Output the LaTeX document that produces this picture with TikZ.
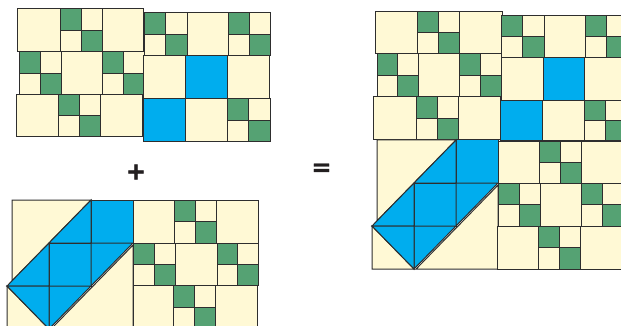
\documentclass[tikz,border=0pt]{standalone}
\usepackage{fontspec}
\newfontfamily\opfont{DejaVu Sans}
\definecolor{pale}{HTML}{FFF9D5}
\definecolor{grn}{HTML}{55A273}
\definecolor{blu}{HTML}{00ADEE}
\definecolor{edgecol}{HTML}{2E2E2E}
\definecolor{opcol}{HTML}{231F20}
\tikzset{
  cell/.style={draw=edgecol, line width=1pt, line join=miter},
  palecell/.style={cell, fill=pale},
  greencell/.style={cell, fill=grn},
  bluecell/.style={cell, fill=blu},
  opsign/.style={font=\opfont\bfseries\addfontfeature{FakeBold=1.6}\fontsize{24}{24}\selectfont, text=opcol, inner sep=0pt}
}
% large pale square, blue square, four-patch
\newcommand{\Lg}[4]{\path[palecell] (#1,#2) rectangle (#3,#4);}
\newcommand{\Bs}[4]{\path[bluecell] (#1,#2) rectangle (#3,#4);}
\newcommand{\Fp}[4]{%
  \pgfmathsetmacro\qmx{(#1+#3)/2}\pgfmathsetmacro\qmy{(#2+#4)/2}%
  \path[greencell] (#1,#2) rectangle (\qmx,\qmy);
  \path[palecell] (\qmx,#2) rectangle (#3,\qmy);
  \path[palecell] (#1,\qmy) rectangle (\qmx,#4);
  \path[greencell] (\qmx,\qmy) rectangle (#3,#4);}
% rows: {y1}{y2}{a}{b}{c}{d}
\newcommand{\RowLFL}[6]{\Lg{#3}{#1}{#4}{#2}\Fp{#4}{#1}{#5}{#2}\Lg{#5}{#1}{#6}{#2}}
\newcommand{\RowFLF}[6]{\Fp{#3}{#1}{#4}{#2}\Lg{#4}{#1}{#5}{#2}\Fp{#5}{#1}{#6}{#2}}
\newcommand{\RowLBL}[6]{\Lg{#3}{#1}{#4}{#2}\Bs{#4}{#1}{#5}{#2}\Lg{#5}{#1}{#6}{#2}}
\newcommand{\RowBLF}[6]{\Bs{#3}{#1}{#4}{#2}\Lg{#4}{#1}{#5}{#2}\Fp{#5}{#1}{#6}{#2}}
% half-square-triangle star arm block
\newcommand{\HST}[2]{%
  \begin{scope}[shift={(#1,#2)},x=42pt,y=-43pt]
    \path[palecell] (0.12,0) -- (2,0) -- (0.12,1.88) -- cycle;
    \path[palecell] (0,2) -- (1,3) -- (0,3) -- cycle;
    \path[palecell] (3,1.05) -- (3,3) -- (1.05,3) -- cycle;
    \path[bluecell] (2,0) rectangle (3,1);
    \path[bluecell] (2,0) -- (2,1) -- (1,1) -- cycle;
    \path[bluecell] (1,1) rectangle (2,2);
    \path[bluecell] (1,1) -- (1,2) -- (0,2) -- cycle;
    \path[bluecell] (2,1) -- (3,1) -- (2,2) -- cycle;
    \path[bluecell] (1,2) -- (2,2) -- (1,3) -- cycle;
    \path[bluecell] (0,2) -- (1,2) -- (1,3) -- cycle;
  \end{scope}}
\begin{document}
\begin{tikzpicture}[x=1pt,y=-1pt]
  \useasboundingbox (0,0) rectangle (621,326);
  \clip (0,0) rectangle (621,326);
  % ---- separate top block ----
  \RowLFL{9}{52}{17}{60}{102}{143}
  \RowFLF{52}{95}{19}{61}{102}{144}
  \RowLFL{95}{137}{16}{58}{100}{142}
  \RowFLF{13}{56}{144}{187}{228}{270}
  \RowLBL{56}{99}{143}{185}{227}{269}
  \RowBLF{99}{142}{143}{185}{227}{270}
  % ---- separate bottom block ----
  \HST{7}{200}
  \RowLFL{200}{243}{133}{174}{216}{258}
  \RowFLF{243}{285}{133}{175}{217}{258}
  \RowLFL{285}{329}{133}{173}{215}{257}
  % ---- operators ----
  \node[opsign] (plus) at (136,172) {+};
  \node[opsign] (equals) at (321.5,169.5) {=};
  % ---- assembled quilt ----
  \RowLFL{12}{54}{375}{417}{459}{502}
  \RowFLF{54}{97}{377}{418}{459}{502}
  \RowLFL{97}{140}{373}{416}{458}{500}
  \RowFLF{16}{58}{501}{544}{585}{627}
  \RowLBL{58}{101}{501}{543}{584}{626}
  \RowBLF{101}{141}{500}{542}{584}{626}
  \HST{372}{140}
  \RowLFL{142}{183}{498}{539}{581}{623}
  \RowFLF{183}{226}{498}{540}{581}{623}
  \RowLFL{226}{269}{497}{538}{580}{622}
\end{tikzpicture}
\end{document}
